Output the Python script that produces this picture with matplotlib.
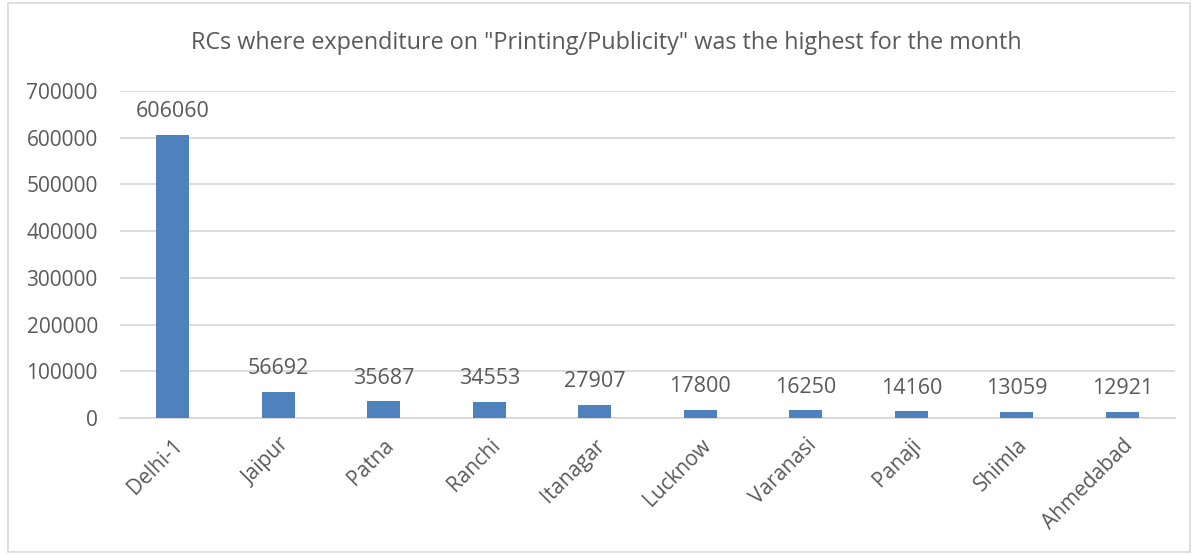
import numpy as np
import matplotlib.pyplot as plt
from matplotlib.patches import Rectangle

# data
cities = ['Delhi-1', 'Jaipur', 'Patna', 'Ranchi', 'Itanagar',
          'Lucknow', 'Varanasi', 'Panaji', 'Shimla', 'Ahmedabad']
spend = [606060, 56692, 35687, 34553, 27907, 17800, 16250, 14160, 13059, 12921]
yticks = [0, 100000, 200000, 300000, 400000, 500000, 600000, 700000]

txt = '#595959'
grid = '#D9D9D9'
bar_col = '#4F81BD'

plt.rcParams['font.family'] = ['Open Sans', 'DejaVu Sans']

fig = plt.figure(figsize=(11.96, 5.55), dpi=100)
# chart area border
fig.patches.append(Rectangle((8 / 1196, 3 / 555), 1182 / 1196, 549 / 555,
                             transform=fig.transFigure, fill=False,
                             edgecolor=grid, linewidth=1.2))

ax = fig.add_axes([120 / 1196, 1 - 418 / 555, 1055 / 1196, (418 - 91) / 555])
x = np.arange(len(cities))
ax.bar(x, spend, width=0.31, color=bar_col, zorder=3)

for xi, v in zip(x, spend):
    ax.annotate(str(v), (xi, v), xytext=(0, 9), textcoords='offset points',
                ha='center', va='bottom', fontsize=15.5, color=txt)

ax.set_xlim(-0.5, len(cities) - 0.5)
ax.set_ylim(0, 700000)
ax.set_yticks(yticks)
ax.set_yticklabels([str(t) for t in yticks], fontsize=15, color=txt)
ax.set_xticks(x)
ax.set_xticklabels(cities, rotation=45, ha='right', rotation_mode='anchor',
                   fontsize=15, color=txt)
ax.tick_params(axis='y', length=0, pad=16)
ax.tick_params(axis='x', length=0, pad=12)
ax.grid(axis='y', color=grid, linewidth=1.3, zorder=0)
for s in ['top', 'right', 'left']:
    ax.spines[s].set_visible(False)
ax.spines['bottom'].set_color(grid)
ax.spines['bottom'].set_linewidth(1.3)

fig.text(606 / 1196, 1 - 43 / 555,
         'RCs where expenditure on "Printing/Publicity" was the highest for the month',
         ha='center', va='center', fontsize=16.8, color=txt)

fig.savefig('out.png', dpi=100)
